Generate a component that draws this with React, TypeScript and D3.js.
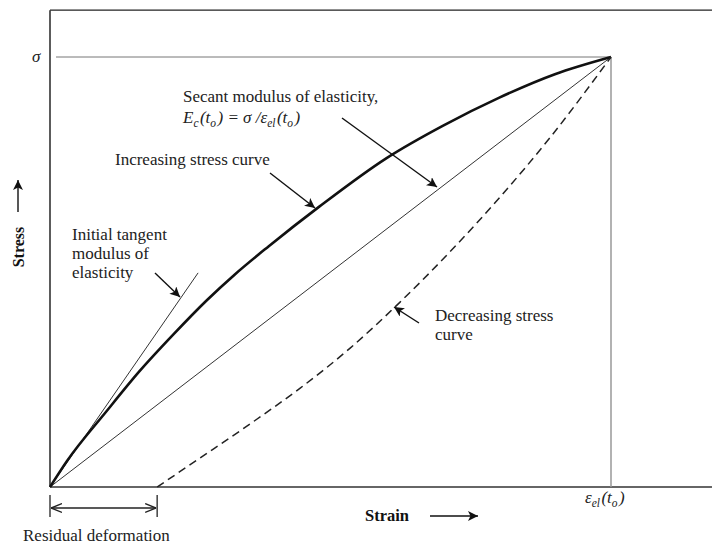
import React from 'react';
import * as d3 from 'd3';

// normalised strain / stress (1 = peak point)
const incStrain = [0, 0.03, 0.1, 0.16, 0.22, 0.28, 0.33, 0.39, 0.48, 0.6, 0.7, 0.8, 0.9, 1];
const incStress = [0, 0.06, 0.175, 0.27, 0.355, 0.435, 0.495, 0.56, 0.652, 0.765, 0.84, 0.905, 0.96, 1];

const decStrain = [0.191, 0.267, 0.357, 0.446, 0.535, 0.624, 0.713, 0.802, 0.891, 1];
const decStress = [0, 0.067, 0.147, 0.23, 0.323, 0.43, 0.547, 0.674, 0.812, 1];

const secantStrain = [0, 1];
const secantStress = [0, 1];

const tangentStrain = [0, 0.264];
const tangentStress = [0, 0.498];

const residualStrain = 0.191;
const peakStrain = 1;
const peakStress = 1;
const strainMax = 1.18;
const stressMax = 1.109;

const W = 712;
const H = 545;
const serif = "'Liberation Serif', 'Times New Roman', serif";
const FS = 17;

const x = d3.scaleLinear().domain([0, 1]).range([50, 611]);
const y = d3.scaleLinear().domain([0, 1]).range([487, 57]);

const zip = (a: number[], b: number[]) => a.map((v, i) => [v, b[i]] as [number, number]);

const smooth = d3.line<[number, number]>()
  .x(d => x(d[0]))
  .y(d => y(d[1]))
  .curve(d3.curveMonotoneX);

const straight = d3.line<[number, number]>()
  .x(d => x(d[0]))
  .y(d => y(d[1]));

const Sub = ({ children }: { children: string }) => (
  <>
    <tspan fontSize={11.5} dy={4}>{children}</tspan>
    <tspan fontSize={FS} dy={-4}>{'\u200A'}</tspan>
  </>
);

export default function App() {
  return (
    <svg width={W} height={H} style={{ position: 'absolute', left: 0, top: 0, background: '#fff' }}
      fontFamily={serif}>
      <defs>
        <marker id="head" viewBox="0 0 10 10" refX="10" refY="5" markerWidth="10" markerHeight="10"
          markerUnits="userSpaceOnUse" orient="auto">
          <path d="M0,0 L10,5 L0,10 L2.5,5 Z" fill="#111" />
        </marker>
        <marker id="open" viewBox="0 0 10 10" refX="10" refY="5" markerWidth="11" markerHeight="11"
          markerUnits="userSpaceOnUse" orient="auto-start-reverse">
          <path d="M0,1 L10,5 L0,9" fill="none" stroke="#222" strokeWidth={1.3} />
        </marker>
      </defs>

      {/* frame */}
      <line x1={x(0)} x2={x(strainMax)} y1={y(stressMax)} y2={y(stressMax)} stroke="#222" strokeWidth={1.4} />
      <line x1={x(0)} x2={x(0)} y1={y(stressMax)} y2={y(0)} stroke="#333" strokeWidth={1.6} />
      <line x1={x(0)} x2={x(strainMax)} y1={y(0)} y2={y(0)} stroke="#333" strokeWidth={1.6} />

      {/* peak guides */}
      <line x1={x(0) + 6} x2={x(peakStrain)} y1={y(peakStress)} y2={y(peakStress)} stroke="#777" strokeWidth={1} />
      <line x1={x(peakStrain)} x2={x(peakStrain)} y1={y(peakStress)} y2={y(0)} stroke="#999" strokeWidth={1.5} />

      {/* curves */}
      <path d={straight(zip(tangentStrain, tangentStress)) || ''} fill="none" stroke="#333" strokeWidth={1} />
      <path d={straight(zip(secantStrain, secantStress)) || ''} fill="none" stroke="#333" strokeWidth={1} />
      <path d={smooth(zip(incStrain, incStress)) || ''} fill="none" stroke="#111" strokeWidth={2.6} />
      <path d={smooth(zip(decStrain, decStress)) || ''} fill="none" stroke="#222" strokeWidth={1.5}
        strokeDasharray="8,5" />

      {/* annotation arrows */}
      <g stroke="#111" strokeWidth={1.4}>
        <line x1={342} y1={118} x2={437} y2={187} markerEnd="url(#head)" />
        <line x1={270} y1={173} x2={315} y2={208} markerEnd="url(#head)" />
        <line x1={155} y1={273} x2={180} y2={297} markerEnd="url(#head)" />
        <line x1={419} y1={323} x2={394} y2={307} markerEnd="url(#head)" />
      </g>

      {/* texts */}
      <g fill="#222" fontSize={FS}>
        <text x={183} y={102}>Secant modulus of elasticity,</text>
        <text x={183} y={123} fontStyle="italic">
          E<Sub>c</Sub>(t<Sub>o</Sub>) = σ /ε<Sub>el</Sub>(t<Sub>o</Sub>)
        </text>
        <text x={115} y={165}>Increasing stress curve</text>
        <text x={72} y={240}>Initial tangent</text>
        <text x={72} y={259}>modulus of</text>
        <text x={72} y={278}>elasticity</text>
        <text x={435} y={321}>Decreasing stress</text>
        <text x={435} y={340}>curve</text>
        <text x={23} y={541}>Residual deformation</text>
        <text x={32} y={62} fontStyle="italic">σ</text>
        <text x={585} y={503} fontStyle="italic">
          ε<Sub>el</Sub>(t<Sub>o</Sub>)
        </text>
      </g>

      {/* axis titles */}
      <text x={365} y={521} fontSize={16.5} fontWeight="bold" fill="#111">Strain</text>
      <line x1={430} y1={516} x2={478} y2={516} stroke="#111" strokeWidth={1.4} markerEnd="url(#head)" />
      <text transform="translate(24,247) rotate(-90)" textAnchor="middle" fontSize={16} fontWeight="bold"
        fill="#111">Stress</text>
      <line x1={18} y1={212} x2={18} y2={180} stroke="#111" strokeWidth={1.4} markerEnd="url(#head)" />

      {/* residual deformation span */}
      <g stroke="#222" strokeWidth={1.3}>
        <line x1={x(0)} x2={x(0)} y1={495} y2={517} />
        <line x1={x(residualStrain)} x2={x(residualStrain)} y1={495} y2={517} />
        <line x1={x(0) + 1} x2={x(residualStrain) - 1} y1={508} y2={508}
          markerStart="url(#open)" markerEnd="url(#open)" />
      </g>
    </svg>
  );
}
